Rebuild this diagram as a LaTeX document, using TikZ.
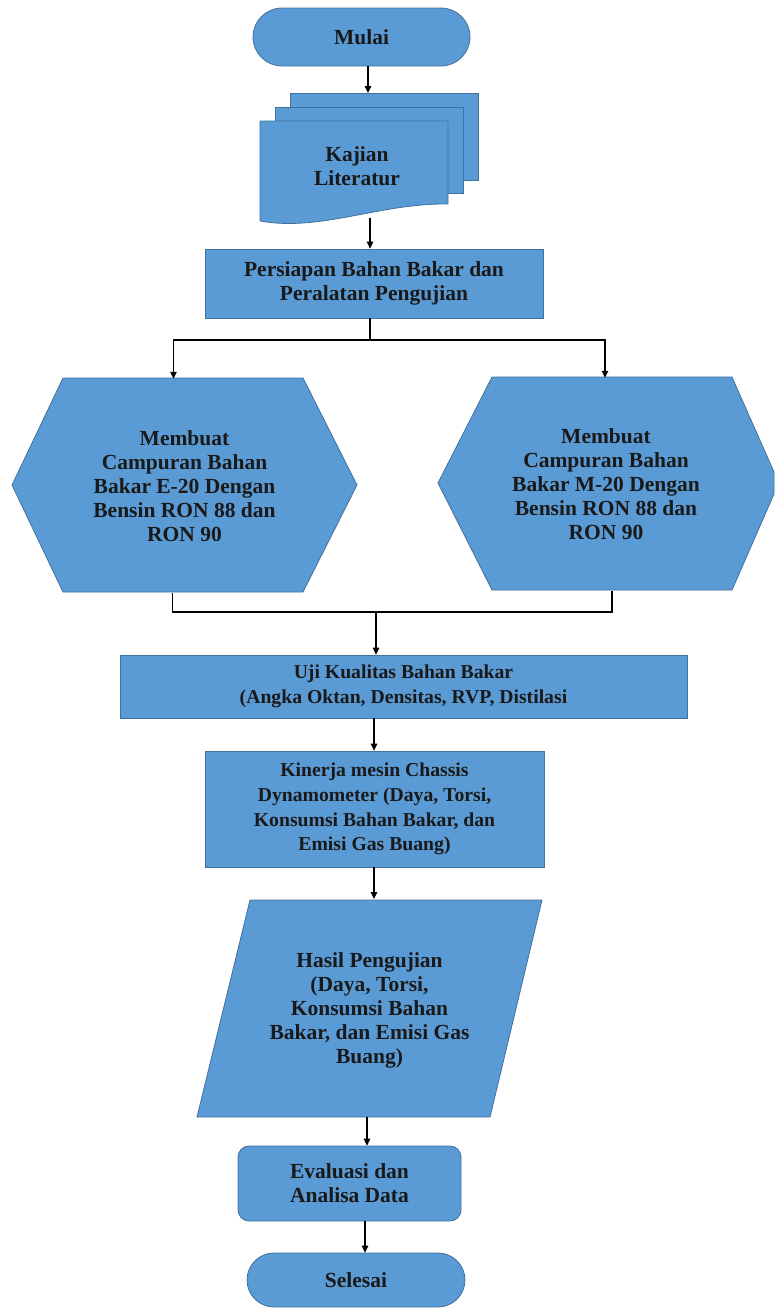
\documentclass[tikz,border=0pt]{standalone}
\usepackage{fontspec}
\setmainfont{Liberation Serif}[BoldFont={Liberation Serif Bold}]
\usetikzlibrary{arrows.meta}
\definecolor{fillblue}{HTML}{5B9BD5}
\definecolor{edgeblue}{HTML}{41719C}
\begin{document}
\begin{tikzpicture}[x=1pt,y=-1pt,
  shp/.style={fill=fillblue,draw=edgeblue,line width=0.8pt},
  txt/.style={font=\fontsize{21.5}{24}\selectfont\bfseries,align=center,inner sep=0pt,text=black!90},
  smalltxt/.style={font=\fontsize{19.7}{24.8}\selectfont\bfseries},
  boxn/.style={shp,txt,rectangle},
  ghost/.style={txt,rectangle},
  arr/.style={-{Triangle[length=7pt,width=6.5pt]},line width=1.3pt,black},
  ln/.style={line width=1.3pt,black}]
\useasboundingbox (0,0) rectangle (774,1309);
% Mulai
\node[boxn,rounded corners=29pt,minimum width=217pt,minimum height=58pt] (mulai) at (361.5,37) {Mulai};
% multi document
\draw[shp] (290,93) rectangle (478,180);
\draw[shp] (275,107) rectangle (463,193);
\draw[shp] (260,121) -- (448,121) -- (448,204) .. controls (380,203) and (320,232) .. (260,221) -- cycle;
\node[ghost,minimum width=188pt,minimum height=100pt] (kajian) at (354,171) {};
\node[txt] (kajiantxt) at (357,166) {Kajian\\Literatur};
% Persiapan
\node[boxn,minimum width=338pt,minimum height=69pt] (persiapan) at (374,283.5) {Persiapan Bahan Bakar dan\\Peralatan Pengujian};
% hexagons
\draw[shp] (12,485) -- (63,378) -- (303,378) -- (357,485) -- (303,592) -- (63,592) -- cycle;
\node[ghost,minimum width=345pt,minimum height=214pt] (hexL) at (184.5,486) {Membuat\\Campuran Bahan\\Bakar E-20 Dengan\\Bensin RON 88 dan\\RON 90};
\draw[shp] (438,483) -- (492,377) -- (732,377) -- (774,472) -- (774,494) -- (732,590) -- (492,590) -- cycle;
\node[ghost,minimum width=336pt,minimum height=213pt] (hexR) at (606,484.5) {Membuat\\Campuran Bahan\\Bakar M-20 Dengan\\Bensin RON 88 dan\\RON 90};
% Uji
\node[boxn,smalltxt,minimum width=567pt,minimum height=63pt] (uji) at (403.5,686.5) {Uji Kualitas Bahan Bakar\\(Angka Oktan, Densitas, RVP, Distilasi};
% Kinerja
\node[boxn,smalltxt,minimum width=339pt,minimum height=116pt] (kinerja) at (374.5,809) {Kinerja mesin Chassis\\Dynamometer (Daya, Torsi,\\Konsumsi Bahan Bakar, dan\\Emisi Gas Buang)};
% Hasil parallelogram
\draw[shp] (250,900) -- (542,900) -- (490,1117) -- (197,1117) -- cycle;
\node[ghost,minimum width=292pt,minimum height=217pt] (hasil) at (369.5,1010) {Hasil Pengujian\\(Daya, Torsi,\\Konsumsi Bahan\\Bakar, dan Emisi Gas\\Buang)};
% Evaluasi
\node[boxn,rounded corners=11pt,minimum width=223pt,minimum height=75pt] (evaluasi) at (349.5,1183.5) {Evaluasi dan\\Analisa Data};
% Selesai
\node[boxn,rounded corners=27pt,minimum width=218pt,minimum height=54pt] (selesai) at (356,1280) {Selesai};
% connectors
\draw[arr] (mulai.south -| 368,0) -- (368,93);
\coordinate (kajianout) at (370,218);
\draw[arr] (kajianout) -- (persiapan.north -| kajianout);
\coordinate (split) at (370,340);
\draw[ln] (persiapan.south -| split) -- (split);
\draw[arr] (split) -| ([xshift=-11pt]hexL.north);
\draw[arr] (split) -| ([xshift=-1pt]hexR.north);
\coordinate (merge) at (376,612);
\draw[ln] ([xshift=-12pt]hexL.south) |- (merge);
\draw[ln] ([xshift=6pt]hexR.south) |- (merge);
\draw[arr] (merge) -- (uji.north -| merge);
\draw[arr] (uji.south -| 374,0) -- (kinerja.north -| 374,0);
\draw[arr] (kinerja.south -| 374,0) -- (374,899);
\draw[arr] (367,1117) -- (evaluasi.north -| 367,0);
\draw[arr] (evaluasi.south -| 365,0) -- (selesai.north -| 365,0);
\end{tikzpicture}
\end{document}
